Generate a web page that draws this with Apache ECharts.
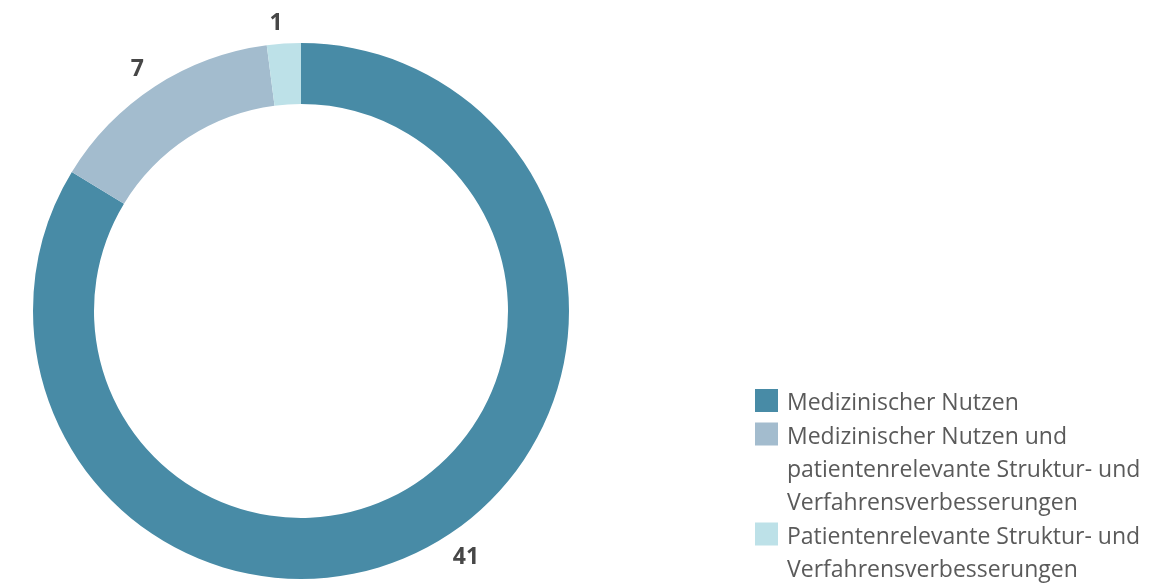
<!DOCTYPE html>
<html><head><meta charset="utf-8">
<script src="https://cdn.jsdelivr.net/npm/echarts@6/dist/echarts.min.js"></script>
<style>html,body{margin:0;padding:0;background:#fff}#c{width:1176px;height:585px}</style>
</head><body><div id="c"></div>
<script>
const categories = [
  'Medizinischer Nutzen',
  'Medizinischer Nutzen und patientenrelevante Struktur- und Verfahrensverbesserungen',
  'Patientenrelevante Struktur- und Verfahrensverbesserungen'
];
const values = [41, 7, 1];
const colors = ['#488BA6', '#A3BCCE', '#BDE1E8'];
const legendLines = [1, 3, 2];
const legendFirstLineY = [403.5, 437, 537];

const LH = 33.4;
const ICON_SHIFT = -3;
const textStyle = {
  fontFamily: 'Open Sans', fontWeight: 'normal', fontSize: 23, color: '#5a5a5a',
  lineHeight: LH, width: 400, overflow: 'break', padding: [0, 0, 0, 4]
};
// icon: 23x23 square near the top of a box as tall as the text block
function iconFor(n) {
  const h = n * LH;
  const t = LH / 2 - 11.5 + ICON_SHIFT;
  return 'path://M0 ' + t + ' h23 v23 h-23 Z M0 0 L0.01 0 M0 ' + h + ' L0.01 ' + h;
}
const legends = categories.map((name, i) => ({
  orient: 'vertical',
  left: 755,
  top: legendFirstLineY[i] - LH / 2,
  padding: 0,
  itemGap: 0,
  itemWidth: 23,
  itemHeight: legendLines[i] * LH,
  textStyle: textStyle,
  data: [{name: name, icon: iconFor(legendLines[i])}]
}));

const chart = echarts.init(document.getElementById('c'), null, {renderer: 'canvas'});
chart.setOption({
  animation: false,
  legend: legends,
  series: [{
    type: 'pie',
    center: [301, 311],
    radius: [207, 268],
    startAngle: 90,
    clockwise: true,
    avoidLabelOverlap: false,
    label: {
      show: true, position: 'outside', formatter: '{c}', distanceToLabelLine: 0,
      fontFamily: 'Open Sans', fontWeight: 'bold', fontSize: 23, color: '#474747'
    },
    labelLine: {show: false, length: 20, length2: 0},
    emphasis: {disabled: true},
    data: categories.map((n, i) => ({
      name: n, value: values[i], itemStyle: {color: colors[i]},
      label: i === 0 ? {distanceToLabelLine: 13} : {},
      labelLine: i === 0 ? {length: 15} : {}
    }))
  }]
});
</script></body></html>
